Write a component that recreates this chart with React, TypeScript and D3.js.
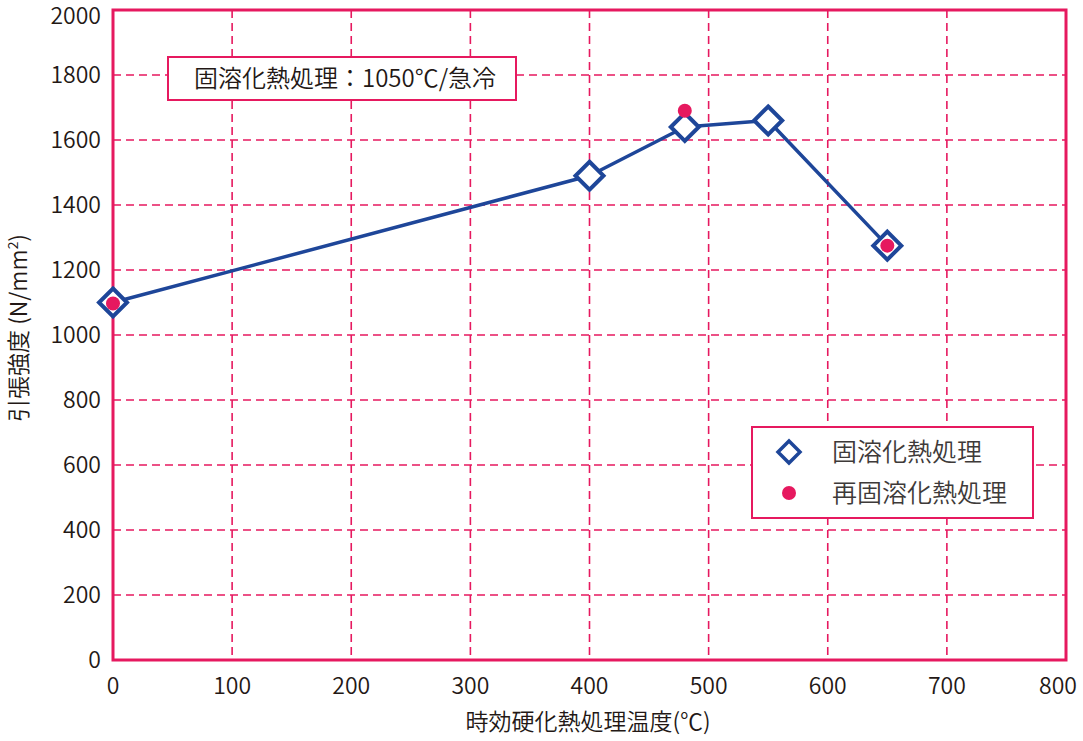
import * as d3 from "d3";

const xTicks = [0, 100, 200, 300, 400, 500, 600, 700, 800];
const yTicks = [0, 200, 400, 600, 800, 1000, 1200, 1400, 1600, 1800, 2000];

// 固溶化熱処理
const solTemp = [0, 400, 480, 550, 650];
const solStrength = [1100, 1490, 1640, 1660, 1275];

// 再固溶化熱処理
const reTemp = [0, 480, 650];
const reStrength = [1097, 1690, 1275];

const PINK = "#e6195f";
const BLUE = "#1e4699";
const TEXT = "#231815";
const FONT = "'Noto Sans CJK JP', 'Noto Sans', sans-serif";

export default function App() {
    const width = 1083;
    const height = 741;

    const x = d3.scaleLinear().domain([0, 800]).range([113, 1066]);
    const y = d3.scaleLinear().domain([0, 2000]).range([660, 10]);

    const sol = solTemp.map((t, i) => ({ t, v: solStrength[i] }));
    const re = reTemp.map((t, i) => ({ t, v: reStrength[i] }));

    const line = d3.line<{ t: number; v: number }>()
        .x((d) => x(d.t))
        .y((d) => y(d.v));

    const diamond = (cx: number, cy: number, r: number) =>
        `M${cx},${cy - r}L${cx + r},${cy}L${cx},${cy + r}L${cx - r},${cy}Z`;

    return (
        <>
            <style>{`body{margin:0}`}</style>
            <svg width={width} height={height} style={{ display: "block", background: "#fff" }}
                fontFamily={FONT} fontWeight={350}>
                {/* grid */}
                {xTicks.slice(1, -1).map((t) => (
                    <line key={"gx" + t} x1={x(t)} x2={x(t)} y1={y(2000)} y2={y(0)}
                        stroke={PINK} strokeWidth={1.6} strokeDasharray="8 5" />
                ))}
                {yTicks.slice(1, -1).map((t) => (
                    <line key={"gy" + t} x1={x(0)} x2={x(800)} y1={y(t)} y2={y(t)}
                        stroke={PINK} strokeWidth={1.6} strokeDasharray="8 5" />
                ))}

                {/* frame */}
                <rect x={x(0)} y={y(2000)} width={x(800) - x(0)} height={y(0) - y(2000)}
                    fill="none" stroke={PINK} strokeWidth={3} />

                {/* tick labels */}
                {yTicks.map((t) => (
                    <text key={"ty" + t} x={101} y={Math.max(y(t), 16)} dy="0.35em" textAnchor="end"
                        fontSize={23} fill={TEXT}>{t}</text>
                ))}
                {xTicks.map((t) => (
                    <text key={"tx" + t} x={Math.min(x(t), 1058)} y={686} dy="0.35em" textAnchor="middle"
                        fontSize={23} fill={TEXT}>{t}</text>
                ))}

                {/* axis titles */}
                <text x={588} y={722} dy="0.35em" textAnchor="middle" fontSize={23} fill={TEXT}>
                    時効硬化熱処理温度(℃)
                </text>
                <text transform="translate(19,328) rotate(-90)" dy="0.35em" textAnchor="middle"
                    fontSize={23} fill={TEXT}>
                    引張強度 (N/mm<tspan dy="-9" fontSize={14}>2</tspan><tspan dy="9">)</tspan>
                </text>

                {/* annotation */}
                <rect x={168} y={57} width={348} height={43} fill="#fff" stroke={PINK} strokeWidth={2} />
                <text x={194} y={78.5} dy="0.35em" fontSize={24} fill={TEXT}>固溶化熱処理：1050℃/急冷</text>

                {/* series line */}
                <path d={line(sol) || ""} fill="none" stroke={BLUE} strokeWidth={3.5} strokeLinejoin="round" />
                {sol.map((d, i) => (
                    <path key={"sd" + i} d={diamond(x(d.t), y(d.v), 14)} fill="#fff"
                        stroke={BLUE} strokeWidth={4} />
                ))}
                {re.map((d, i) => (
                    <circle key={"rd" + i} cx={x(d.t)} cy={y(d.v)} r={7} fill={PINK} />
                ))}

                {/* legend */}
                <rect x={752} y={427} width={281} height={91} fill="#fff" stroke={PINK} strokeWidth={2} />
                <path d={diamond(789, 452, 11)} fill="#fff" stroke={BLUE} strokeWidth={3.5} />
                <text x={832} y={452} dy="0.35em" fontSize={25} fill="#3e3a39">固溶化熱処理</text>
                <circle cx={789} cy={493} r={7} fill={PINK} />
                <text x={832} y={493} dy="0.35em" fontSize={25} fill="#3e3a39">再固溶化熱処理</text>
            </svg>
        </>
    );
}
